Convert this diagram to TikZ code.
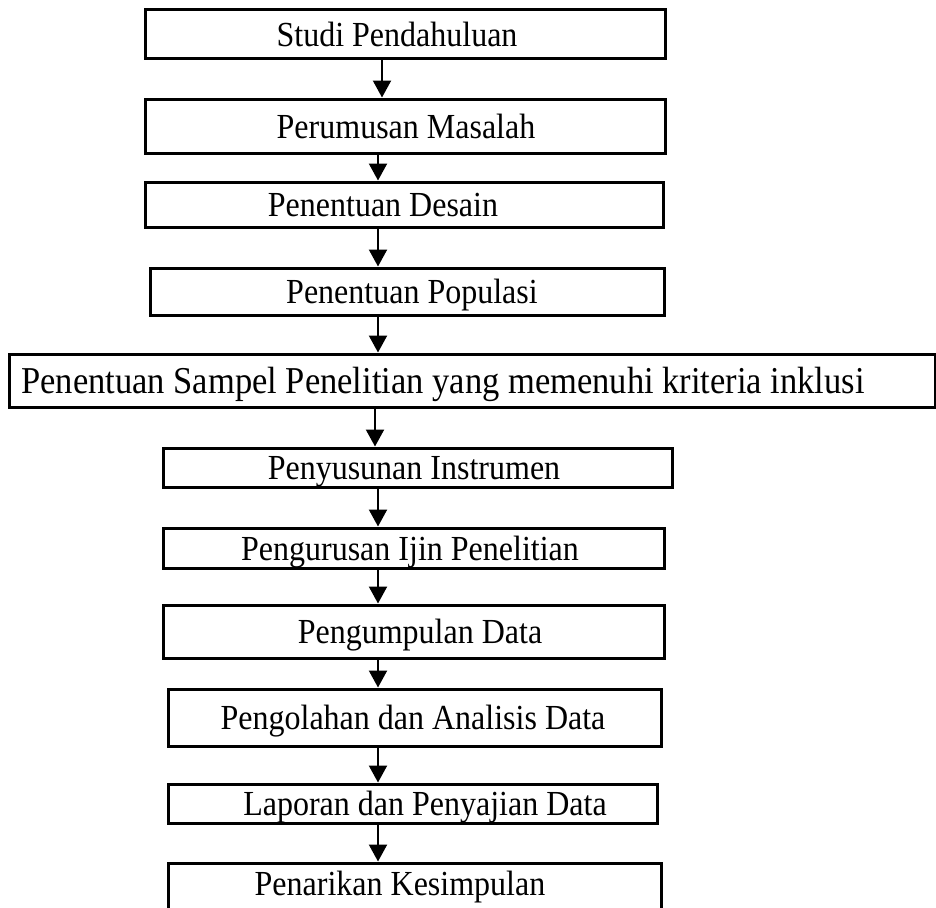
\documentclass[tikz,border=0pt]{standalone}
\usepackage{fontspec}
\setmainfont{Liberation Serif}
\usetikzlibrary{arrows.meta}
\newcommand{\vstr}[1]{\scalebox{1}[1.1]{#1}}
\begin{document}
\begin{tikzpicture}[x=1pt,y=-1pt,
  box/.style={draw, line width=3pt, inner sep=0pt},
  lbl/.style={font=\fontsize{32}{38}\selectfont, inner sep=0pt, anchor=base},
  lblw/.style={font=\fontsize{34.5}{40}\selectfont, inner sep=0pt, anchor=base},
  arr/.style={line width=2.2pt, -{Triangle[width=18pt,length=17pt]}}]
\useasboundingbox (0,0) rectangle (936,907);
% boxes
\node[box, minimum width=520pt, minimum height=49pt] (b1) at (405,34.5) {};
\node[box, minimum width=520pt, minimum height=54pt] (b2) at (405,126) {};
\node[box, minimum width=518pt, minimum height=45pt] (b3) at (404,204.5) {};
\node[box, minimum width=514pt, minimum height=47pt] (b4) at (407,291.5) {};
\node[box, minimum width=926pt, minimum height=53pt] (b5) at (472,380.5) {};
\node[box, minimum width=509pt, minimum height=39pt] (b6) at (417.5,467.5) {};
\node[box, minimum width=501pt, minimum height=40pt] (b7) at (413.5,548) {};
\node[box, minimum width=501pt, minimum height=53pt] (b8) at (413.5,631.5) {};
\node[box, minimum width=493pt, minimum height=57pt] (b9) at (414.5,717.5) {};
\node[box, minimum width=489pt, minimum height=39pt] (b10) at (412.5,803.5) {};
\node[box, minimum width=493pt, minimum height=52pt] (b11) at (414.5,889) {};
% labels
\node[lbl] (t1) at (397,46) {\vstr{Studi Pendahuluan}};
\node[lbl] (t2) at (406,138) {\vstr{Perumusan Masalah}};
\node[lbl] (t3) at (383,216) {\vstr{Penentuan Desain}};
\node[lbl] (t4) at (412,303) {\vstr{Penentuan Populasi}};
\node[lblw] (t5) at (443,393) {\vstr{Penentuan Sampel Penelitian yang memenuhi kriteria inklusi}};
\node[lbl] (t6) at (414,479) {\vstr{Penyusunan Instrumen}};
\node[lbl] (t7) at (410,560) {\vstr{Pengurusan Ijin Penelitian}};
\node[lbl] (t8) at (420,643) {\vstr{Pengumpulan Data}};
\node[lbl] (t9) at (413,729) {\vstr{Pengolahan dan Analisis Data}};
\node[lbl] (t10) at (425,815) {\vstr{Laporan dan Penyajian Data}};
\node[lbl] (t11) at (400,895) {\vstr{Penarikan Kesimpulan}};
% arrow columns
\coordinate (xa) at (382,0);
\coordinate (xb) at (378,0);
\coordinate (xc) at (375,0);
\draw[arr] (b1.south -| xa) -- (b2.north -| xa);
\draw[arr] (b2.south -| xb) -- (b3.north -| xb);
\draw[arr] (b3.south -| xb) -- (b4.north -| xb);
\draw[arr] (b4.south -| xb) -- (b5.north -| xb);
\draw[arr] (b5.south -| xc) -- (b6.north -| xc);
\draw[arr] (b6.south -| xb) -- (b7.north -| xb);
\draw[arr] (b7.south -| xb) -- (b8.north -| xb);
\draw[arr] (b8.south -| xb) -- (b9.north -| xb);
\draw[arr] (b9.south -| xb) -- (b10.north -| xb);
\draw[arr] (b10.south -| xb) -- (b11.north -| xb);
\end{tikzpicture}
\end{document}
